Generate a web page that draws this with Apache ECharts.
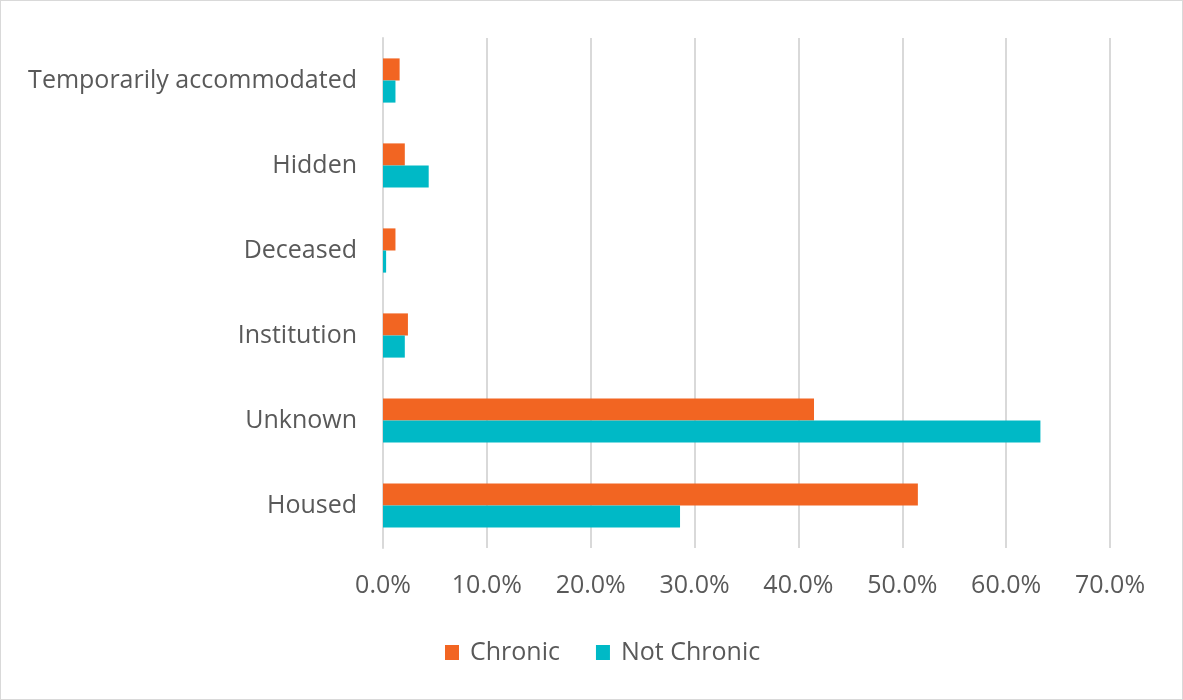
<!DOCTYPE html>
<html><head><meta charset="utf-8">
<script src="https://cdn.jsdelivr.net/npm/echarts@6/dist/echarts.min.js"></script>
<style>html,body{margin:0;padding:0;background:#fff}#c{width:1181px;height:698px;border:1px solid #d9d9d9}</style>
</head><body><div id="c"></div>
<script>
const categories = ['Temporarily accommodated','Hidden','Deceased','Institution','Unknown','Housed'];
const chronic = [1.6, 2.1, 1.2, 2.4, 41.5, 51.5];
const notChronic = [1.2, 4.4, 0.3, 2.1, 63.3, 28.6];
const xTicks = [0,10,20,30,40,50,60,70];
const font = '"Open Sans", sans-serif';
const chart = echarts.init(document.getElementById('c'));
chart.setOption({
  animation:false,
  grid:{left:382,right:72,top:37,bottom:151,containLabel:false},
  legend:{bottom:29,left:439,itemWidth:14,itemHeight:15,itemGap:36,icon:'rect',
    textStyle:{color:'#595959',fontSize:25,fontFamily:font,padding:[0,0,0,6]},data:['Chronic','Not Chronic']},
  xAxis:{type:'value',min:xTicks[0],max:xTicks[xTicks.length-1],interval:10,
    axisLabel:{formatter:v=>v.toFixed(1)+'%',color:'#595959',fontSize:25,fontFamily:font,margin:25},
    splitLine:{lineStyle:{color:'#d9d9d9',width:2}},axisLine:{show:false},axisTick:{show:false}},
  yAxis:{type:'category',inverse:true,data:categories,
    axisLabel:{color:'#595959',fontSize:25,fontFamily:font,margin:26},
    axisLine:{lineStyle:{color:'#d9d9d9',width:2}},axisTick:{show:false}},
  series:[
    {name:'Chronic',type:'bar',data:chronic,barGap:'0%',barCategoryGap:'48%',itemStyle:{color:'#F26522'}},
    {name:'Not Chronic',type:'bar',data:notChronic,barGap:'0%',barCategoryGap:'48%',itemStyle:{color:'#00B9C6'}}
  ]
});
</script></body></html>
